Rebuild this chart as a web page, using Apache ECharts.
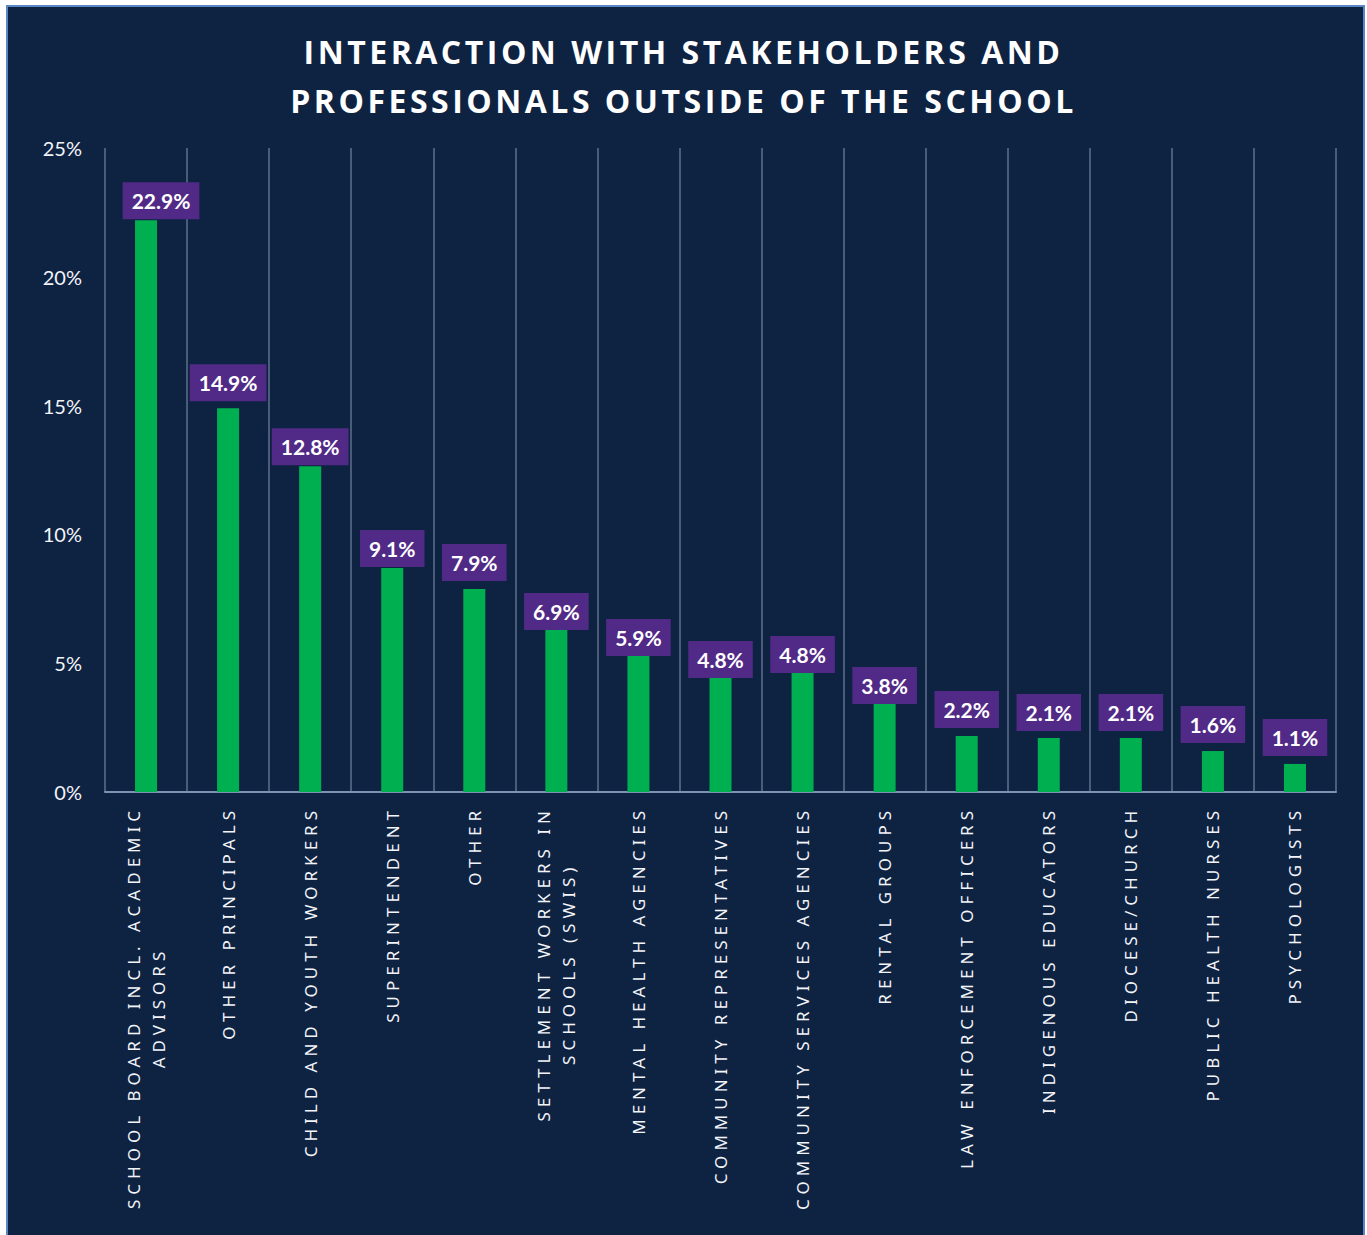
<!DOCTYPE html>
<html>
<head>
<meta charset="utf-8">
<script src="https://cdn.jsdelivr.net/npm/echarts@6/dist/echarts.min.js"></script>
<style>
body { margin: 0; background: #ffffff; }
#panel { position: absolute; left: 6px; top: 5px; width: 1355px; height: 1240px; background: #0e2242; border: 2px solid #5a86c6; }
#main { position: absolute; left: 0; top: 0; width: 1367px; height: 1235px; }
/* letter spacing for title and category names */
#main text[style*="Open Sans"] { letter-spacing: 3.5px; }
#main text[style*="Noto Sans"] { letter-spacing: 5px; }
</style>
</head>
<body>
<div id="panel"></div>
<div id="main"></div>
<script>
var titleText = 'INTERACTION WITH STAKEHOLDERS AND\nPROFESSIONALS OUTSIDE OF THE SCHOOL';

var categories = [
    'SCHOOL BOARD INCL. ACADEMIC\nADVISORS',
    'OTHER PRINCIPALS',
    'CHILD AND YOUTH WORKERS',
    'SUPERINTENDENT',
    'OTHER',
    'SETTLEMENT WORKERS IN\nSCHOOLS (SWIS)',
    'MENTAL HEALTH AGENCIES',
    'COMMUNITY REPRESENTATIVES',
    'COMMUNITY SERVICES AGENCIES',
    'RENTAL GROUPS',
    'LAW ENFORCEMENT OFFICERS',
    'INDIGENOUS EDUCATORS',
    'DIOCESE/CHURCH',
    'PUBLIC HEALTH NURSES',
    'PSYCHOLOGISTS'
];

// bar heights as drawn (%)
var barValues = [22.2, 14.9, 12.65, 8.7, 7.88, 6.29, 5.28, 4.43, 4.62, 3.42, 2.17, 2.1, 2.1, 1.59, 1.09];

// printed labels
var barLabels = ['22.9%', '14.9%', '12.8%', '9.1%', '7.9%', '6.9%', '5.9%', '4.8%', '4.8%', '3.8%', '2.2%', '2.1%', '2.1%', '1.6%', '1.1%'];

var yTicks = [0, 5, 10, 15, 20, 25];

// measure text the same way the css draws it
var mctx = document.createElement('canvas').getContext('2d');
echarts.setPlatformAPI({
    measureText: function (text, font) {
        mctx.font = font;
        var sp = '0px';
        if (font.indexOf('Open Sans') >= 0) sp = '3.5px';
        else if (font.indexOf('Noto Sans') >= 0) sp = '5px';
        mctx.letterSpacing = sp;
        return mctx.measureText(text);
    }
});

var myChart = echarts.init(document.getElementById('main'), null, {renderer: 'svg'});

// gap between label box and bar top, as in the original
var labelGap = [1, 7, 1, 1, 8, 0, 0, 0, 0, 0, 8, 7, 7, 8, 8];

var seriesData = barValues.map(function (v, i) {
    var item = {value: v, label: {distance: labelGap[i]}};
    if (i === 0) item.label.offset = [15, 0];
    return item;
});

var option = {
    backgroundColor: 'transparent',
    animation: false,
    title: {
        text: titleText,
        left: 'center',
        top: 27,
        padding: [0, 0, 0, 10],
        textStyle: {
            color: '#ffffff',
            fontFamily: 'Open Sans',
            fontWeight: 'bold',
            fontSize: 32,
            lineHeight: 49
        }
    },
    grid: {
        left: 105,
        top: 148,
        width: 1231,
        height: 644,
        containLabel: false
    },
    xAxis: {
        type: 'category',
        data: categories,
        axisLine: {show: true, lineStyle: {color: '#7c93b3', width: 2}},
        axisTick: {show: false},
        splitLine: {show: true, lineStyle: {color: '#4a5c79', width: 2}},
        axisLabel: {
            interval: 0,
            rotate: 90,
            margin: 14,
            color: '#f2f4f8',
            fontFamily: 'Noto Sans',
            fontSize: 17,
            lineHeight: 25,
            formatter: function (val) {
                return val.split('\n').map(function (s) { return '{c|' + s + '}'; }).join('\n');
            },
            rich: {
                c: {
                    align: 'center',
                    color: '#f2f4f8',
                    fontFamily: 'Noto Sans',
                    fontSize: 17,
                    lineHeight: 25
                }
            }
        }
    },
    yAxis: {
        type: 'value',
        min: yTicks[0],
        max: yTicks[yTicks.length - 1],
        interval: 5,
        axisLine: {show: false},
        axisTick: {show: false},
        splitLine: {show: false},
        axisLabel: {
            margin: 23,
            color: '#f2f4f8',
            fontFamily: 'Lato',
            fontSize: 20,
            formatter: '{value}%'
        }
    },
    series: [
        {
            name: 'Interaction',
            type: 'bar',
            data: seriesData,
            barWidth: 22,
            itemStyle: {color: '#00b050'},
            label: {
                show: true,
                position: 'top',
                formatter: function (p) { return barLabels[p.dataIndex]; },
                color: '#ffffff',
                fontFamily: 'Lato',
                fontWeight: 'bold',
                fontSize: 21,
                lineHeight: 23,
                backgroundColor: '#512a87',
                padding: [7, 9, 7, 9]
            }
        }
    ]
};

if (option && typeof option === "object") {
    myChart.setOption(option, true);
}
</script>
</body>
</html>
